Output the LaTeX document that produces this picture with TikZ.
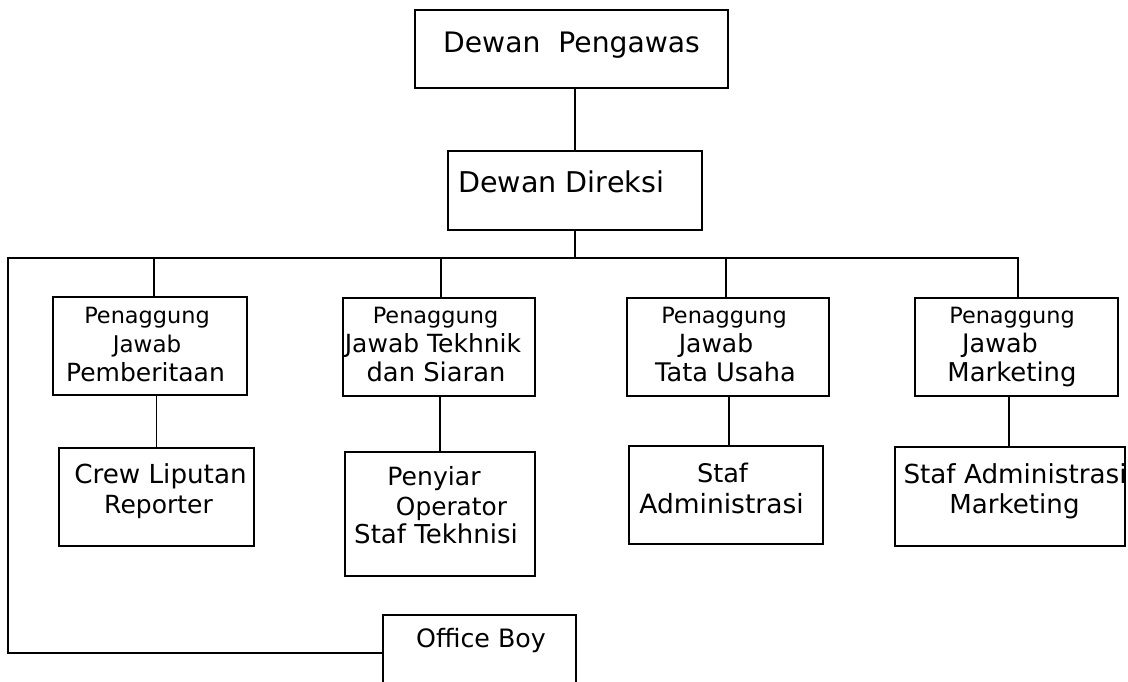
\documentclass[tikz,border=0pt]{standalone}
\usepackage{fontspec}
\setmainfont{DejaVu Sans}
\usetikzlibrary{calc}
\tikzset{
  box/.style={draw, line width=1.9pt, inner sep=0pt, outer sep=0pt},
  conn/.style={line width=1.9pt},
  txt/.style={inner sep=0pt, anchor=base},
  sz/.style={font=\fontsize{#1}{#1}\selectfont},
}
\begin{document}
\begin{tikzpicture}[x=1pt,y=-1pt]
\useasboundingbox (0,0) rectangle (1128,682);
\clip (0,0) rectangle (1128,682);

% boxes
\node[box, minimum width=313, minimum height=78] (dp) at (571.5,49) {};
\node[box, minimum width=254, minimum height=79] (dd) at (575,190.5) {};
\node[box, minimum width=194, minimum height=98] (pm1) at (150,346) {};
\node[box, minimum width=192, minimum height=98] (pm2) at (439,347) {};
\node[box, minimum width=202, minimum height=98] (pm3) at (728,347) {};
\node[box, minimum width=203, minimum height=98] (pm4) at (1016.5,347) {};
\node[box, minimum width=195, minimum height=98] (crew) at (156.5,497) {};
\node[box, minimum width=190, minimum height=124] (peny) at (440,514) {};
\node[box, minimum width=194, minimum height=98] (staf) at (726,495) {};
\node[box, minimum width=230, minimum height=99] (stafm) at (1010,496.5) {};
\node[box, minimum width=193, minimum height=76] (ob) at (479.5,653) {};

% connectors
\coordinate (bl) at (8,258);
\draw[conn] (dd.north) -- (dd.north |- dp.south);
\draw[conn] (dd.south) -- (dd.south |- bl);
\draw[conn] (ob.west) -| (bl) -| ([xshift=1.5]pm4.north);
\draw[conn] ([xshift=4]pm1.north) -- ([xshift=4]pm1.north |- bl);
\draw[conn] ([xshift=2]pm2.north) -- ([xshift=2]pm2.north |- bl);
\draw[conn] ([xshift=-2]pm3.north) -- ([xshift=-2]pm3.north |- bl);
\draw[conn] (crew.north) -- (crew.north |- pm1.south);
\draw[conn] (peny.north) -- (peny.north |- pm2.south);
\draw[conn] ([xshift=3]staf.north) -- ([xshift=3]staf.north |- pm3.south);
\draw[conn] ([xshift=-1]stafm.north) -- ([xshift=-1]stafm.north |- pm4.south);

% texts
\node[txt, sz=28.2] (t0) at (571.5,53) {Dewan\ \ Pengawas};
\node[txt, sz=28.6, anchor=base west] (t1) at (458,193) {Dewan Direksi};

\node[txt, sz=22.4] (a1) at (147,323) {Penaggung};
\node[txt, sz=23] (a2) at (147,352) {Jawab};
\node[txt, sz=25] (a3) at (145.5,381) {Pemberitaan};

\node[txt, sz=22.4] (b1) at (435.5,323) {Penaggung};
\node[txt, sz=25] (b2) at (433,352) {Jawab Tekhnik};
\node[txt, sz=25.8] (b3) at (436,381) {dan Siaran};

\node[txt, sz=22.4] (c1) at (724,323) {Penaggung};
\node[txt, sz=25] (c2) at (716,352) {Jawab};
\node[txt, sz=25.6] (c3) at (725.5,381) {Tata Usaha};

\node[txt, sz=22.4] (d1) at (1012,323) {Penaggung};
\node[txt, sz=25.5] (d2) at (1000,352) {Jawab};
\node[txt, sz=25.9] (d3) at (1012,381) {Marketing};

\node[txt, sz=26.2] (e1) at (160.5,483) {Crew Liputan};
\node[txt, sz=25] (e2) at (158.5,513) {Reporter};

\node[txt, sz=25.1] (f1) at (434,485) {Penyiar};
\node[txt, sz=24.8] (f2) at (451.5,515) {Operator};
\node[txt, sz=26] (f3) at (436,543) {Staf Tekhnisi};

\node[txt, sz=25.6] (g1) at (722.5,482) {Staf};
\node[txt, sz=26.5] (g2) at (721.5,513) {Administrasi};

\node[txt, sz=26.2] (h1) at (1015,483) {Staf Administrasi};
\node[txt, sz=26.1] (h2) at (1014.5,513) {Marketing};

\node[txt, sz=25.3] (i1) at (481,647) {Office Boy};
\end{tikzpicture}
\end{document}
